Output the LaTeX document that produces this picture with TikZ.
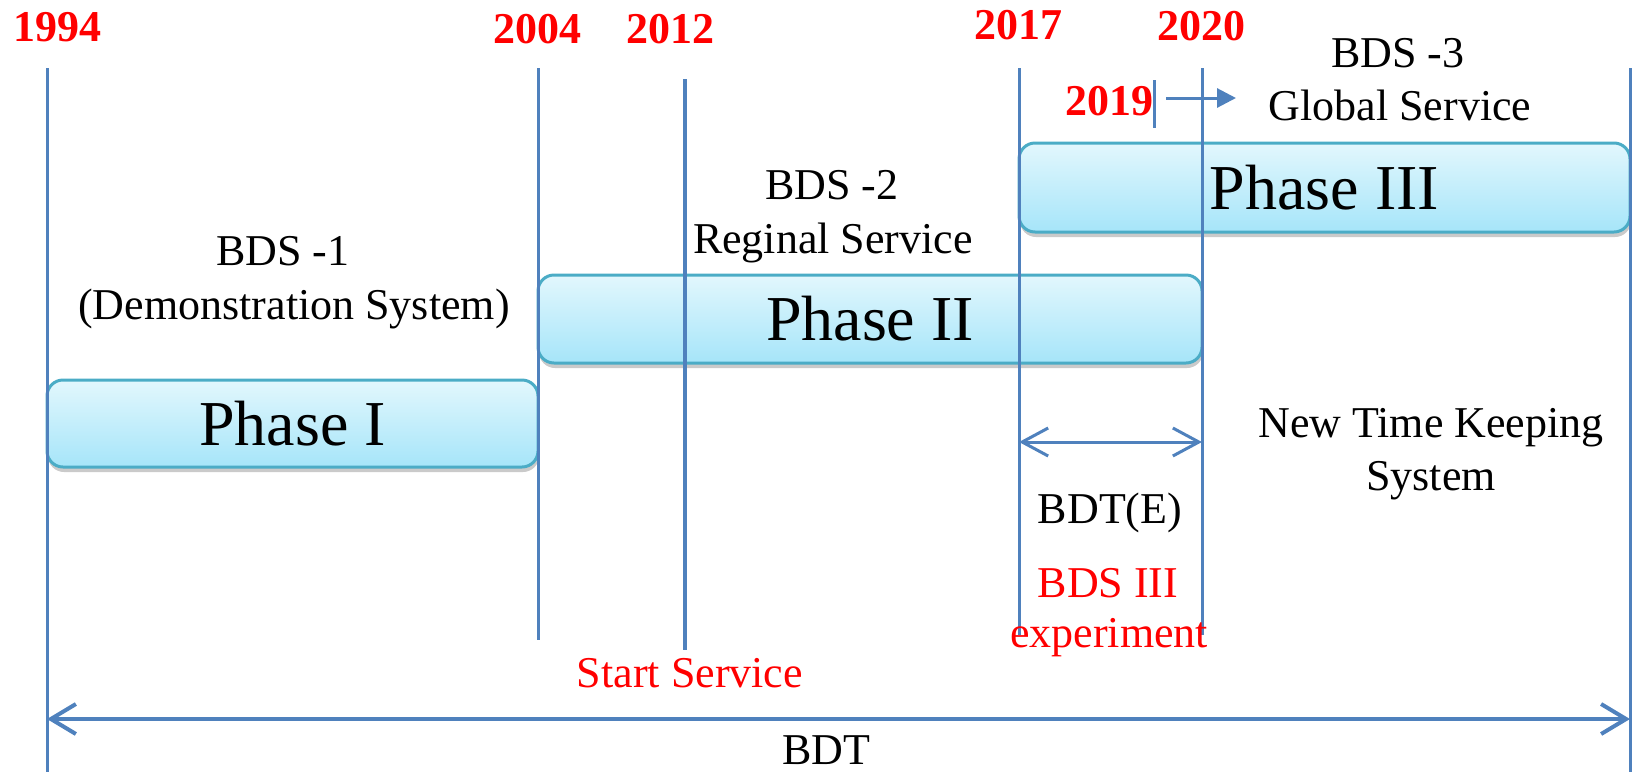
\documentclass[tikz,border=0pt]{standalone}
\usepackage{fontspec}
\setmainfont{Liberation Serif}
\usetikzlibrary{arrows.meta,shadows}
\definecolor{lineblue}{HTML}{4F81BD}
\definecolor{boxedge}{HTML}{4BACC6}
\definecolor{boxtop}{HTML}{E2F7FD}
\definecolor{boxbot}{HTML}{A6E5F9}
\definecolor{txtred}{HTML}{FF0000}
\begin{document}
\begin{tikzpicture}[x=1pt,y=-1pt,
  yearlbl/.style={text=txtred, font=\fontsize{44}{50}\selectfont\bfseries, anchor=base, inner sep=0pt},
  lbl/.style={font=\fontsize{44}{53}\selectfont, anchor=base, inner sep=0pt},
  redlbl/.style={lbl, text=txtred},
  phasebox/.style={draw=boxedge, line width=3pt, rounded corners=16pt,
    top color=boxtop, bottom color=boxbot, inner sep=0pt,
    font=\fontsize{64}{70}\selectfont,
    drop shadow={shadow xshift=1pt, shadow yshift=-5pt, opacity=0.35, fill=black!60}},
  tline/.style={draw=lineblue, line width=3pt},
  bigbarb/.tip={Straight Barb[length=25pt,width=30pt]},
  smallbarb/.tip={Straight Barb[length=26pt,width=28pt]},
]
\useasboundingbox (0,0) rectangle (1632,772);

% phase boxes
\node[phasebox, minimum width=491pt, minimum height=87pt] (ph1) at (292.5,423.5) {\raisebox{-3pt}{Phase I}};
\node[phasebox, minimum width=664pt, minimum height=88pt] (ph2) at (870,319) {\raisebox{-3pt}{Phase II}};
\node[phasebox, minimum width=611pt, minimum height=89pt] (ph3) at (1324.5,187.5) {\raisebox{-3pt}{Phase III}};

% timeline coordinates
\coordinate (t1994) at (47,68);   \coordinate (b1994) at (47,772);
\coordinate (t2004) at (538,68);  \coordinate (b2004) at (538,640);
\coordinate (t2012) at (685,79);  \coordinate (b2012) at (685,650);
\coordinate (t2017) at (1019,68); \coordinate (b2017) at (1019,635);
\coordinate (t2020) at (1202,68); \coordinate (b2020) at (1202,635);
\coordinate (t2019) at (1154,80); \coordinate (b2019) at (1154,128);
\coordinate (tend) at (1630,68);  \coordinate (bend) at (1630,772);

\draw[tline] (t1994) -- (b1994);
\draw[tline] (t2004) -- (b2004);
\draw[tline, line width=4pt] (t2012) -- (b2012);
\draw[tline] (t2017) -- (b2017);
\draw[tline] (t2020) -- (b2020);
\draw[tline] (t2019) -- (b2019);
\draw[tline] (tend) -- (bend);

% arrows
\coordinate (a19s) at (1166,98); \coordinate (a19e) at (1236,98);
\draw[tline, -{Triangle[length=19pt,width=19pt]}] (a19s) -- (a19e);
\coordinate (beL) at (1019,442); \coordinate (beR) at (1202,442);
\draw[tline, smallbarb-smallbarb] (beL) -- (beR);
\coordinate (bdL) at (47,719); \coordinate (bdR) at (1630,719);
\draw[tline, line width=4pt, bigbarb-bigbarb] (bdL) -- (bdR);

% years
\node[yearlbl] (y1994) at (57,41) {1994};
\node[yearlbl] (y2004) at (537,43) {2004};
\node[yearlbl] (y2012) at (670,43) {2012};
\node[yearlbl] (y2017) at (1018,39) {2017};
\node[yearlbl] (y2020) at (1201,40) {2020};
\node[yearlbl] (y2019) at (1109,115) {2019};

% labels
\node[lbl] (bds1a) at (283,265) {BDS -1};
\node[lbl] (bds1b) at (294,319) {(Demonstration System)};
\node[lbl] (bds2a) at (832,199) {BDS -2};
\node[lbl] (bds2b) at (833,253) {Reginal Service};
\node[lbl] (bds3a) at (1398,67) {BDS -3};
\node[lbl] (bds3b) at (1400,120) {Global Service};
\node[lbl] (ntk1) at (1431,437) {New Time Keeping};
\node[lbl] (ntk2) at (1431,490) {System};
\node[lbl] (bdte) at (1110,523) {BDT(E)};
\node[redlbl] (exp1) at (1108,597) {BDS III};
\node[redlbl] (exp2) at (1109,647) {experiment};
\node[redlbl] (start) at (690,687) {Start Service};
\node[lbl] (bdt) at (826,764) {BDT};
\end{tikzpicture}
\end{document}
